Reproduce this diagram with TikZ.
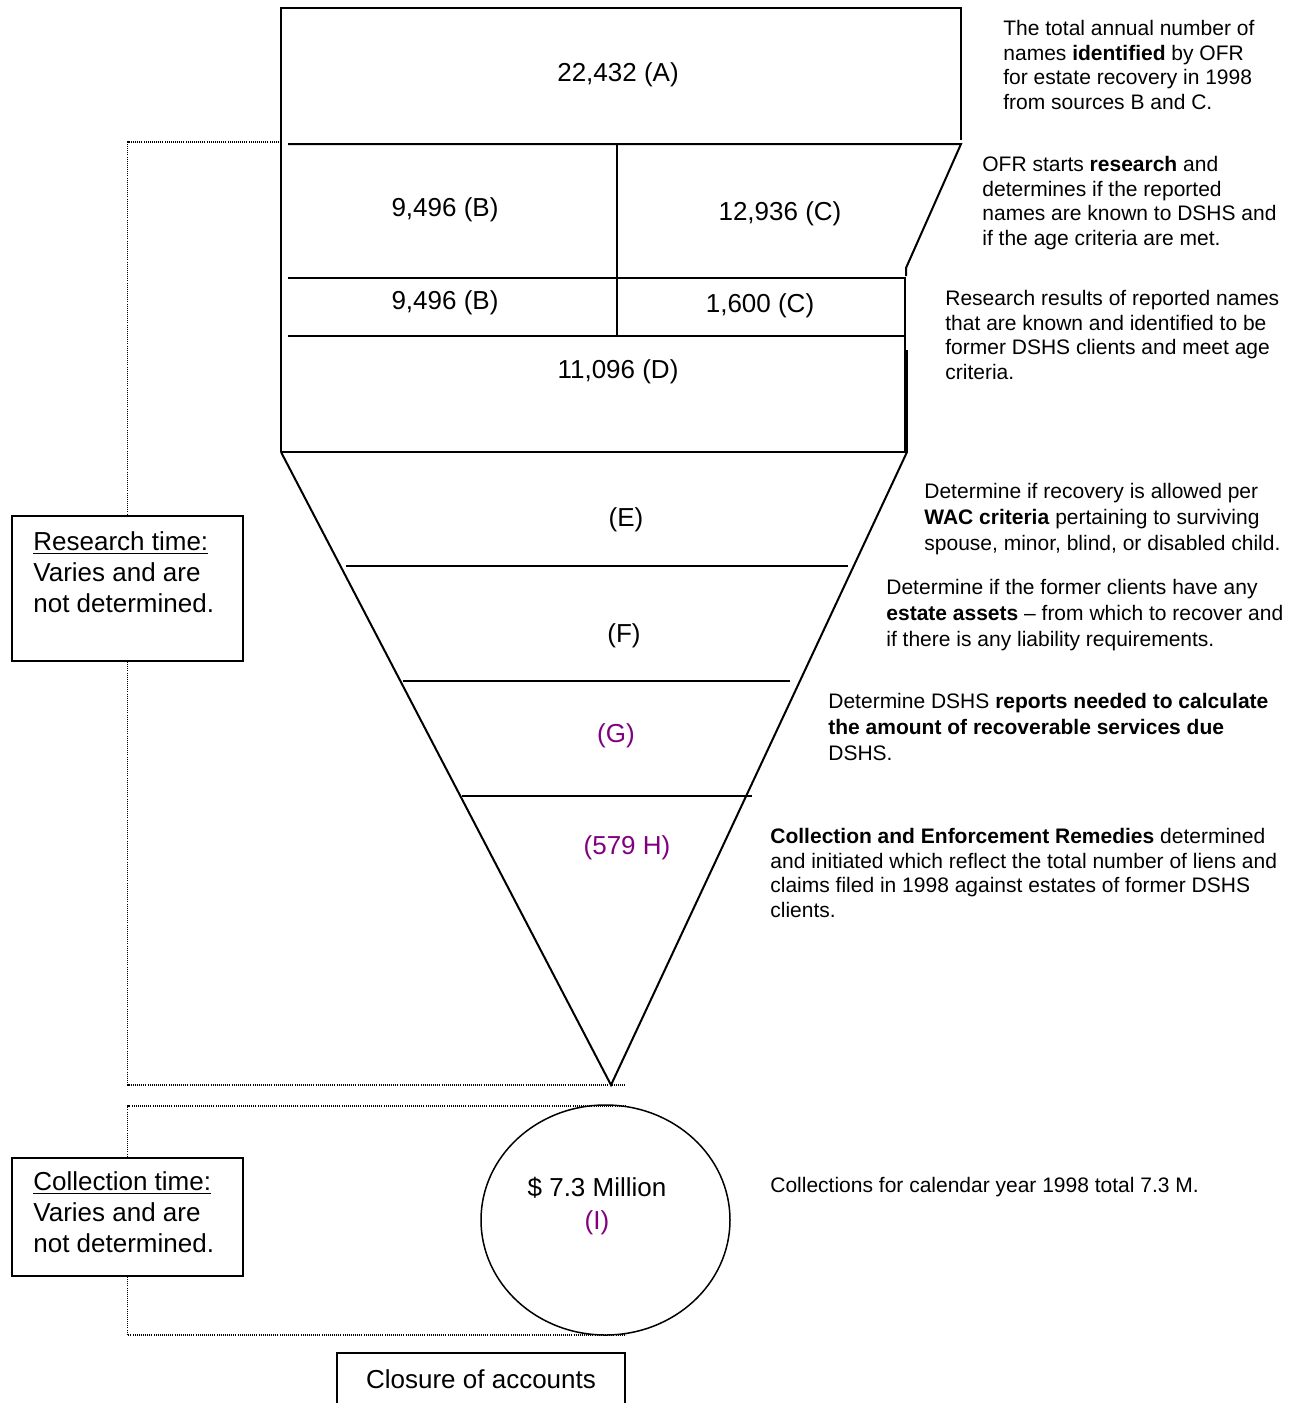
\documentclass[tikz,border=0pt]{standalone}
\usepackage{fontspec}
\setmainfont{Liberation Sans}
\usepackage{tikz}
\usetikzlibrary{positioning,shapes.geometric}
\definecolor{labelpurple}{RGB}{128,0,128}

\begin{document}
\begin{tikzpicture}[x=0.5pt,y=-0.5pt,
num/.style={font=\fontsize{13}{15.5}\selectfont, inner sep=0},
note/.style={font=\fontsize{10.5}{12.25}\selectfont, align=left, anchor=north west, inner sep=0},
notewide/.style={note, font=\fontsize{10.5}{13}\selectfont},
timebox/.style={draw, line width=1pt, minimum width=115.5pt, anchor=north west, inner sep=0},
timetext/.style={font=\fontsize{13}{15.5}\selectfont, align=left, anchor=north west, inner sep=0},
wall/.style={line width=1pt},
dots/.style={line width=0.7pt, dash pattern=on 0.5pt off 0.55pt}
]
\useasboundingbox (0,0) rectangle (1304,1403);
% funnel top: A, B/C, D
\draw[wall] (281,452) |- (961,8) -- (961,140);
\draw[wall] (288,144) -- (961,144) -- (906,268) -- (906,276);
\draw[wall] (288,278) -- (905,278) -- (905,452);
\draw[wall] (617,144) -- (617,336);
\draw[wall] (288,336) -- (905,336);
\draw[wall] (907,350) -- (907,452);
\draw[wall] (281,452) -- (907,452);
% funnel bottom: E to H
\coordinate (tip) at (611,1085);
\draw[wall] (281,452) -- (tip) -- (907,452);
\draw[wall] (346,566) -- (848,566);
\draw[wall] (403,681) -- (790,681);
\draw[wall] (462,796) -- (752,796);

\node[num] (A) at (618,75) {22,432 (A)};
\node[num] (B) at (445,210) {9,496 (B)};
\node[num] (C) at (780,214) {12,936 (C)};
\node[num] (B2) at (445,303) {9,496 (B)};
\node[num] (C2) at (760,306) {1,600 (C)};
\node[num] (D) at (618,372) {11,096 (D)};
\node[num] (E) at (626,520) {(E)};
\node[num] (F) at (624,636) {(F)};
\node[num, text=labelpurple] (G) at (616,736) {(G)};
\node[num, text=labelpurple] (H) at (627,848) {(579 H)};

\node[draw, ellipse, line width=0.75pt, minimum width=124.5pt, minimum height=115pt, inner sep=0] (total) at (605.5,1220) {};
\node[num, align=center, font=\fontsize{13}{16.5}\selectfont] (totaltext) at (597,1206) {\$ 7.3 Million\\\textcolor{labelpurple}{(I)}};
\node[num, draw, line width=1pt, minimum width=144pt, minimum height=26pt] (closure) at (481,1379) {Closure of accounts};

% time brackets
\node[timebox, minimum height=72.5pt] (research) at (11,515) {};
\node[timetext] (researchtext) at (33,531) {\underline{Research time:}\\Varies and are\\not determined.};
\draw[dots] (281,142) -| (research.north);
\draw[dots] (research.south) |- (626,1085);
\node[timebox, minimum height=59pt] (collection) at (11,1157) {};
\node[timetext] (collectiontext) at (33,1171) {\underline{Collection time:}\\Varies and are\\not determined.};
\draw[dots] (626,1106) -| (collection.north);
\draw[dots] (collection.south) |- (626,1335);

% notes
\node[note] (noteA) at (1003,20) {The total annual number of\\names \textbf{identified} by OFR\\for estate recovery in 1998\\from sources B and C.};
\node[note] (noteBC) at (982,156) {OFR starts \textbf{research} and\\determines if the reported\\names are known to DSHS and\\if the age criteria are met.};
\node[note] (noteD) at (945,290) {Research results of reported names\\that are known and identified to be\\former DSHS clients and meet age\\criteria.};
\node[notewide] (noteE) at (924,483) {Determine if recovery is allowed per\\\textbf{WAC criteria} pertaining to surviving\\spouse, minor, blind, or disabled child.};
\node[notewide] (noteF) at (886,579) {Determine if the former clients have any\\\textbf{estate assets} -- from which to recover and\\if there is any liability requirements.};
\node[notewide] (noteG) at (828,693) {Determine DSHS \textbf{reports needed to calculate}\\\textbf{the amount of recoverable services due}\\DSHS.};
\node[note] (noteH) at (770,828) {\textbf{Collection and Enforcement Remedies} determined\\and initiated which reflect the total number of liens and\\claims filed in 1998 against estates of former DSHS\\clients.};
\node[note] (noteI) at (770,1177) {Collections for calendar year 1998 total 7.3 M.};
\end{tikzpicture}
\end{document}
